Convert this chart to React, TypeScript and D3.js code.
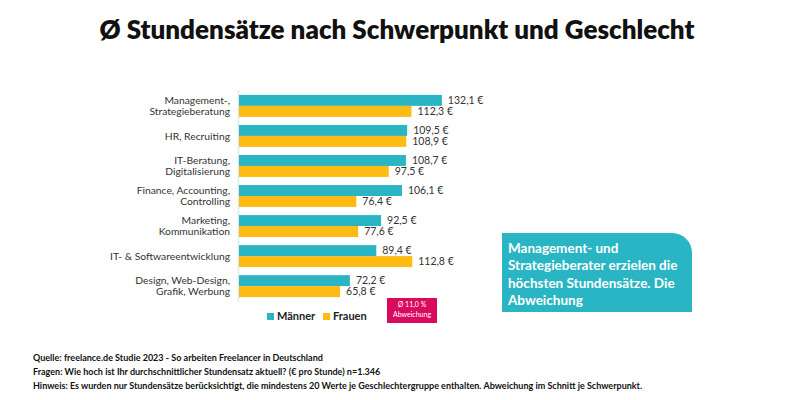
import React from "react";
import * as d3 from "d3";

const categories: string[][] = [
  ["Management-,", "Strategieberatung"],
  ["HR, Recruiting"],
  ["IT-Beratung,", "Digitalisierung"],
  ["Finance, Accounting,", "Controlling"],
  ["Marketing,", "Kommunikation"],
  ["IT- & Softwareentwicklung"],
  ["Design, Web-Design,", "Grafik, Werbung"],
];
const maenner = [132.1, 109.5, 108.7, 106.1, 92.5, 89.4, 72.2];
const frauen = [112.3, 108.9, 97.5, 76.4, 77.6, 112.8, 65.8];
const seriesNames = ["Männer", "Frauen"];
const seriesColors = ["#29b5c4", "#fdbb13"];
const title = "Ø Stundensätze nach Schwerpunkt und Geschlecht";
const callout = ["Management- und", "Strategieberater erzielen die", "höchsten Stundensätze. Die", "Abweichung"];
const badge = ["Ø 11,0 %", "Abweichung"];
const footer = [
  "Quelle: freelance.de Studie 2023 - So arbeiten Freelancer in Deutschland",
  "Fragen: Wie hoch ist Ihr durchschnittlicher Stundensatz aktuell? (€ pro Stunde) n=1.346",
  "Hinweis: Es wurden nur Stundensätze berücksichtigt, die mindestens 20 Werte je Geschlechtergruppe enthalten. Abweichung im Schnitt je Schwerpunkt.",
];

const font = "Lato, 'Open Sans', sans-serif";
const fmt = (v: number) => v.toFixed(1).replace(".", ",") + " €";

export default function App() {
  const W = 800, H = 400;
  const keys = categories.map((c) => c.join(" "));
  const x = d3.scaleLinear().domain([0, 140]).range([239, 454]);
  const y = d3.scaleBand<string>().domain(keys).range([91, 301]).paddingInner(0.27).paddingOuter(0.13);
  const ys = d3.scaleBand<string>().domain(seriesNames).range([0, y.bandwidth()]);
  const data = [maenner, frauen];

  return (
    <svg width={W} height={H} style={{ position: "absolute", left: 0, top: 0, background: "#fff" }} fontFamily={font}>
      <text x={397} y={39} textAnchor="middle" fontSize={26} fontWeight={800} fill="#111">{title}</text>

      <line x1={238.5} x2={238.5} y1={90} y2={302} stroke="#dde9ec" strokeWidth={1.5} />

      {keys.map((k, i) => {
        const y0 = y(k)!;
        const lines = categories[i];
        return (
          <g key={k}>
            {seriesNames.map((s, j) => {
              const v = data[j][i];
              const by = y0 + ys(s)!;
              return (
                <g key={s}>
                  <rect x={x(0)} y={by} width={x(v) - x(0)} height={ys.bandwidth()} fill={seriesColors[j]} />
                  <text x={x(v) + 6} y={by + ys.bandwidth() / 2} dy="0.35em" fontSize={10.5} fill="#333">{fmt(v)}</text>
                </g>
              );
            })}
            {lines.map((t, li) => {
              const cy = lines.length === 1 ? y0 + y.bandwidth() / 2 : y0 + ys(seriesNames[li])! + ys.bandwidth() / 2;
              return (
                <text key={li} x={230} y={cy} dy="0.35em" textAnchor="end" fontSize={10.3} fill="#333">{t}</text>
              );
            })}
          </g>
        );
      })}

      {seriesNames.map((s, j) => {
        const lx = j === 0 ? 267 : 323;
        return (
          <g key={s}>
            <rect x={lx} y={313} width={7} height={7} fill={seriesColors[j]} />
            <text x={lx + 10} y={316.5} dy="0.35em" fontSize={11} fontWeight={700} fill="#222">{s}</text>
          </g>
        );
      })}

      <rect x={387} y={298} width={50} height={25} fill="#d80b5f" />
      {badge.map((t, i) => (
        <text key={i} x={412} y={305 + i * 10} dy="0.35em" textAnchor="middle" fontSize={7} fill="#fff">{t}</text>
      ))}

      <path d="M502,233 H672 A20,20 0 0 1 692,253 V312 H502 Z" fill="#29b5c4" />
      {callout.map((t, i) => (
        <text key={i} x={508} y={248 + i * 17.5} dy="0.35em" fontSize={13.5} fontWeight={700} fill="#fff">{t}</text>
      ))}

      {footer.map((t, i) => (
        <text key={i} x={33} y={358 + i * 14} dy="0.35em" fontSize={9} fontWeight={700} fill="#111">{t}</text>
      ))}
    </svg>
  );
}
